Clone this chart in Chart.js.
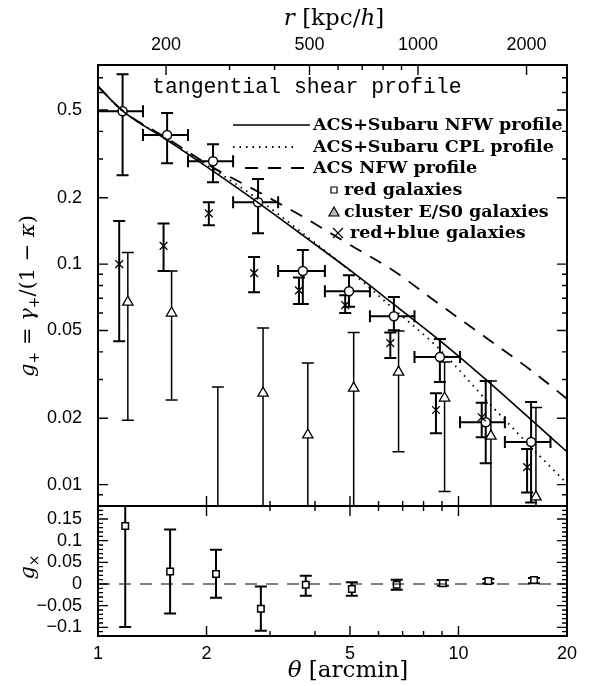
<!DOCTYPE html>
<html>
<head>
<meta charset="utf-8">
<title>tangential shear profile</title>
<script src="https://cdn.jsdelivr.net/npm/chart.js@4.4.1/dist/chart.umd.min.js"></script>
<style>
  html, body { margin: 0; padding: 0; background: #fff; }
  canvas { display: block; }
</style>
</head>
<body>
<canvas id="shear" width="590" height="686"></canvas>
<script>
// red galaxies: tangential shear g+ (circles) with bin edges
const thetaRed   = [1.17, 1.555, 2.085, 2.78, 3.70, 4.97, 6.62, 8.88, 11.9, 15.9];
const thetaRedLo = [1.0, 1.333, 1.777, 2.37, 3.16, 4.26, 5.68, 7.55, 10.1, 13.45];
const thetaRedHi = [1.333, 1.777, 2.37, 3.16, 4.26, 5.68, 7.55, 10.1, 13.45, 18.0];
const gRed   = [0.494, 0.385, 0.293, 0.191, 0.093, 0.0754, 0.058, 0.0379, 0.0192, 0.0156];
const gRedHi = [0.727, 0.484, 0.350, 0.243, 0.116, 0.089, 0.0709, 0.0457, 0.0295, 0.0237];
const gRedLo = [0.253, 0.287, 0.235, 0.138, 0.066, 0.064, 0.0502, 0.0292, 0.0125, 0.0083];

// red+blue galaxies (crosses)
const thetaAll = [1.145, 1.52, 2.03, 2.71, 3.61, 4.85, 6.47, 8.66, 11.6, 15.5];
const gAll   = [0.100, 0.121, 0.170, 0.091, 0.076, 0.0652, 0.0438, 0.0218, 0.0202, 0.012];
const gAllHi = [0.157, 0.153, 0.191, 0.1076, 0.087, 0.0723, 0.049, 0.026, 0.0235, 0.0145];
const gAllLo = [0.0447, 0.093, 0.150, 0.0746, 0.066, 0.060, 0.0375, 0.0171, 0.0164, 0.0092];

// cluster E/S0 galaxies (triangles); null = marker below the axis
const thetaE = [1.21, 1.60, 2.15, 2.87, 3.82, 5.12, 6.82, 9.15, 12.3, 16.4];
const gE   = [0.0673, 0.060, null, 0.026, 0.0168, 0.0274, 0.0324, 0.0247, 0.0166, 0.0088];
const gEHi = [0.113, 0.093, 0.0277, 0.0513, 0.0356, 0.049, 0.0497, 0.036, 0.0295, 0.0224];
const gELo = [0.0196, 0.0242, 0.001, 0.001, 0.001, 0.001, 0.0141, 0.0093, 0.001, 0.001];

// cross shear g_x of red galaxies (bottom panel)
const thetaGx = [1.19, 1.585, 2.125, 2.83, 3.77, 5.06, 6.74, 9.05, 12.1, 16.2];
const gx   = [0.134, 0.0286, 0.023, -0.057, -0.002, -0.0115, -0.002, 0.002, 0.007, 0.009];
const gxHi = [0.367, 0.126, 0.079, -0.006, 0.019, 0.004, 0.010, 0.009, 0.0115, 0.014];
const gxLo = [-0.099, -0.068, -0.032, -0.108, -0.027, -0.027, -0.013, -0.004, 0.002, 0.002];

// model profiles
const modelTheta = [1, 1.17, 1.555, 2.085, 2.78, 3.7, 4.97, 6.62, 8.88, 11.9, 15.9, 20];
const nfwJoint = [0.64, 0.495, 0.365, 0.264, 0.19, 0.135, 0.0946, 0.0657, 0.045, 0.030, 0.0197, 0.0141];
const cplJoint = [0.64, 0.495, 0.368, 0.27, 0.197, 0.138, 0.094, 0.0625, 0.041, 0.0243, 0.0148, 0.0101];
const nfwAcs   = [0.64, 0.497, 0.372, 0.274, 0.213, 0.164, 0.123, 0.093, 0.0655, 0.0465, 0.033, 0.0245];

const legendLabels = ['ACS+Subaru NFW profile', 'ACS+Subaru CPL profile', 'ACS NFW profile',
                      'red galaxies', 'cluster E/S0 galaxies', 'red+blue galaxies'];

// ticks
const thetaTicks = [1, 2, 5, 10, 20];
const thetaMinor = [3, 4, 6, 7, 8, 9];
const kpcPerArcmin = 129.5;
const rTicks = [200, 500, 1000, 2000];
const rMinor = [300, 400, 600, 700, 800, 900];
const gTicks = [0.01, 0.02, 0.05, 0.1, 0.2, 0.5];
const gMinor = [0.008, 0.009, 0.03, 0.04, 0.06, 0.07, 0.08, 0.09, 0.3, 0.4, 0.6, 0.7, 0.8];
const gxTicks = [-0.1, -0.05, 0, 0.05, 0.1, 0.15];
const gxTickText = ['\u22120.1', '\u22120.05', '0', '0.05', '0.1', '0.15'];

const pts = (xs, ys) => xs.map((x, i) => ({ x: x, y: ys[i] }));

const serif = '"DejaVu Serif", serif';
const tickFont = { family: '"Liberation Sans", Arial, sans-serif', size: 18 };
const noGrid = { display: false, drawTicks: false };

// error bars drawn under the markers
const errorSeries = [
  { x: thetaRed, y: gRed, lo: gRedLo, hi: gRedHi, xlo: thetaRedLo, xhi: thetaRedHi, axis: 'yTop', width: 2 },
  { x: thetaAll, lo: gAllLo, hi: gAllHi, axis: 'yTop', width: 2 },
  { x: thetaE, lo: gELo, hi: gEHi, axis: 'yTop', width: 1.5 },
  { x: thetaGx, lo: gxLo, hi: gxHi, axis: 'yBot', width: 2 }
];

const errorBars = {
  id: 'errorBars',
  beforeDatasetsDraw(chart) {
    const ctx = chart.ctx, sx = chart.scales.x;
    const cap = 6;
    errorSeries.forEach(s => {
      const ys = chart.scales[s.axis];
      ctx.save();
      ctx.beginPath();
      ctx.rect(sx.left, ys.top, sx.right - sx.left, ys.bottom - ys.top);
      ctx.clip();
      ctx.strokeStyle = '#000';
      ctx.lineWidth = s.width;
      ctx.beginPath();
      s.x.forEach((t, i) => {
        const px = sx.getPixelForValue(t);
        const a = ys.getPixelForValue(s.hi[i]), b = ys.getPixelForValue(s.lo[i]);
        ctx.moveTo(px, a); ctx.lineTo(px, b);
        ctx.moveTo(px - cap, a); ctx.lineTo(px + cap, a);
        ctx.moveTo(px - cap, b); ctx.lineTo(px + cap, b);
        if (s.xlo) {
          const py = ys.getPixelForValue(s.y[i]);
          const l = sx.getPixelForValue(s.xlo[i]), r = sx.getPixelForValue(s.xhi[i]);
          ctx.moveTo(l, py); ctx.lineTo(r, py);
          ctx.moveTo(l, py - cap); ctx.lineTo(l, py + cap);
          ctx.moveTo(r, py - cap); ctx.lineTo(r, py + cap);
        }
      });
      ctx.stroke();
      ctx.restore();
    });
  }
};

function drawParts(ctx, parts, cx, cy, rotate) {
  ctx.save();
  ctx.translate(cx, cy);
  if (rotate) ctx.rotate(-Math.PI / 2);
  let total = 0;
  parts.forEach(p => { ctx.font = p.f; p.w = ctx.measureText(p.t).width; total += p.w; });
  let x = -total / 2;
  ctx.fillStyle = '#000';
  ctx.textBaseline = 'alphabetic';
  ctx.textAlign = 'left';
  parts.forEach(p => { ctx.font = p.f; ctx.fillText(p.t, x, 7 + (p.dy || 0)); x += p.w; });
  ctx.restore();
}

// frame, inward ticks, titles and legend
const decorations = {
  id: 'decorations',
  afterDraw(chart) {
    const ctx = chart.ctx;
    const sx = chart.scales.x, sr = chart.scales.xTop, st = chart.scales.yTop, sb = chart.scales.yBot;
    const L = sx.left, R = sx.right;
    ctx.save();
    ctx.strokeStyle = '#000';
    ctx.lineWidth = 1.4;
    ctx.beginPath();
    const vt = (px, y0, len) => { ctx.moveTo(px, y0); ctx.lineTo(px, y0 + len); };
    const ht = (py, len) => { ctx.moveTo(L, py); ctx.lineTo(L + len, py); ctx.moveTo(R, py); ctx.lineTo(R - len, py); };
    thetaTicks.concat(thetaMinor).forEach(v => {
      const len = thetaTicks.includes(v) ? 10 : 5;
      const px = sx.getPixelForValue(v);
      vt(px, sb.bottom, -len); vt(px, sb.top, len); vt(px, st.bottom, -len);
    });
    rTicks.concat(rMinor).forEach(v => {
      const len = rTicks.includes(v) ? 10 : 5;
      vt(sr.getPixelForValue(v), st.top, len);
    });
    gTicks.concat(gMinor).forEach(v => ht(st.getPixelForValue(v), gTicks.includes(v) ? 10 : 5));
    for (let k = -12; k <= 18; k++) ht(sb.getPixelForValue(k / 100), k % 5 === 0 ? 10 : 5);
    ctx.stroke();
    ctx.lineWidth = 2;
    ctx.strokeRect(L, st.top, R - L, st.bottom - st.top);
    ctx.strokeRect(L, sb.top, R - L, sb.bottom - sb.top);
    ctx.restore();

    // axis titles
    const it = 'italic 21px ' + serif, rm = '21px ' + serif, sub = '14px ' + serif;
    const it2 = 'italic 23px ' + serif, rm2 = '23px ' + serif;
    drawParts(ctx, [{ t: 'g', f: it }, { t: '+', f: sub, dy: 5 }, { t: ' = ', f: rm },
      { t: 'γ', f: it }, { t: '+', f: sub, dy: 5 }, { t: '/(1 \u2212 ', f: rm },
      { t: 'κ', f: it }, { t: ')', f: rm }], 27, 296, true);
    drawParts(ctx, [{ t: 'g', f: it }, { t: '×', f: sub, dy: 5 }], 27, 567, true);
    drawParts(ctx, [{ t: 'θ', f: it2 }, { t: ' [arcmin]', f: rm2 }], 348, 670, false);
    drawParts(ctx, [{ t: 'r', f: it2 }, { t: ' [kpc/', f: rm2 }, { t: 'h', f: it2 }, { t: ']', f: rm2 }], 334, 18, false);

    // panel title
    ctx.save();
    ctx.fillStyle = '#000';
    ctx.font = '21.5px "Liberation Mono", monospace';
    ctx.textBaseline = 'alphabetic';
    ctx.fillText('tangential shear profile', 152, 93);

    // legend
    ctx.font = 'bold 17.5px ' + serif;
    ctx.textBaseline = 'middle';
    const rowY = [125, 147, 168, 190, 212, 233];
    const dashes = [[], [1.5, 5], [13, 10]];
    const lineSpan = [[233, 310], [233, 297], [245, 307]];
    ctx.strokeStyle = '#000';
    for (let i = 0; i < 3; i++) {
      ctx.beginPath();
      ctx.lineWidth = i === 0 ? 1.6 : 1.8;
      ctx.setLineDash(dashes[i]);
      ctx.moveTo(lineSpan[i][0], rowY[i]);
      ctx.lineTo(lineSpan[i][1], rowY[i]);
      ctx.stroke();
      ctx.fillText(legendLabels[i], 313, rowY[i]);
    }
    ctx.setLineDash([]);
    ctx.lineWidth = 1.2;
    ctx.fillStyle = '#fff';
    ctx.beginPath(); ctx.rect(331, rowY[3] - 3, 6, 6); ctx.fill(); ctx.stroke();
    ctx.beginPath(); ctx.moveTo(334, rowY[4] - 5); ctx.lineTo(339, rowY[4] + 4); ctx.lineTo(329, rowY[4] + 4);
    ctx.closePath(); ctx.fillStyle = '#bbb'; ctx.fill(); ctx.stroke();
    ctx.beginPath();
    ctx.moveTo(333, rowY[5] - 5); ctx.lineTo(343, rowY[5] + 5);
    ctx.moveTo(343, rowY[5] - 5); ctx.lineTo(333, rowY[5] + 5);
    ctx.stroke();
    ctx.fillStyle = '#000';
    ctx.fillText(legendLabels[3], 344, rowY[3]);
    ctx.fillText(legendLabels[4], 344, rowY[4]);
    ctx.fillText(legendLabels[5], 350, rowY[5]);
    ctx.restore();
  }
};

new Chart(document.getElementById('shear'), {
  type: 'scatter',
  data: {
    datasets: [
      { data: pts(modelTheta, nfwJoint), yAxisID: 'yTop', showLine: true, borderColor: '#000', borderWidth: 1.6,
        pointRadius: 0, cubicInterpolationMode: 'monotone' },
      { data: pts(modelTheta, cplJoint), yAxisID: 'yTop', showLine: true, borderColor: '#000', borderWidth: 1.8,
        borderDash: [1.5, 5], pointRadius: 0, cubicInterpolationMode: 'monotone' },
      { data: pts(modelTheta, nfwAcs), yAxisID: 'yTop', showLine: true, borderColor: '#000', borderWidth: 1.8,
        borderDash: [13, 10], pointRadius: 0, cubicInterpolationMode: 'monotone' },
      { data: pts(thetaAll, gAll), yAxisID: 'yTop', pointStyle: 'crossRot', pointRadius: 5.5,
        borderColor: '#000', borderWidth: 1.3 },
      { data: pts(thetaE, gE), yAxisID: 'yTop', pointStyle: 'triangle', pointRadius: 6,
        backgroundColor: '#fff', borderColor: '#000', borderWidth: 1.3 },
      { data: pts(thetaRed, gRed), yAxisID: 'yTop', pointStyle: 'circle', pointRadius: 4.5,
        backgroundColor: '#fff', borderColor: '#000', borderWidth: 1.5 },
      { data: [{ x: 1, y: 0 }, { x: 20, y: 0 }], yAxisID: 'yBot', showLine: true, borderColor: '#000',
        borderWidth: 1, borderDash: [12, 9], pointRadius: 0 },
      { data: pts(thetaGx, gx), yAxisID: 'yBot', pointStyle: 'rect', pointRadius: 4.6,
        backgroundColor: '#fff', borderColor: '#000', borderWidth: 1.5 }
    ]
  },
  options: {
    responsive: false,
    animation: false,
    devicePixelRatio: 1,
    events: [],
    layout: { padding: { left: 0, right: 23, top: 0, bottom: 0 } },
    plugins: { legend: { display: false }, tooltip: { enabled: false } },
    scales: {
      yBot: {
        type: 'linear', position: 'left', stack: 'panels', stackWeight: 130,
        min: -0.12, max: 0.18,
        grid: noGrid, border: { display: false },
        afterBuildTicks: s => { s.ticks = gxTicks.map(v => ({ value: v })); },
        afterFit: s => { s.width = 98; },
        ticks: { font: tickFont, color: '#000', padding: 16, autoSkip: false, callback: (v, i) => gxTickText[i] }
      },
      yTop: {
        type: 'logarithmic', position: 'left', stack: 'panels', stackWeight: 441,
        min: 0.008, max: 0.8,
        grid: noGrid, border: { display: false },
        afterBuildTicks: s => { s.ticks = gTicks.map(v => ({ value: v })); },
        afterFit: s => { s.width = 98; },
        ticks: { font: tickFont, color: '#000', padding: 16, autoSkip: false, callback: (v, i) => String(gTicks[i]) }
      },
      x: {
        type: 'logarithmic', position: 'bottom', min: 1, max: 20,
        grid: noGrid, border: { display: false },
        afterBuildTicks: s => { s.ticks = thetaTicks.map(v => ({ value: v })); },
        afterFit: s => { s.height = 50; },
        ticks: { font: tickFont, color: '#000', padding: 7, autoSkip: false, maxRotation: 0,
                 callback: (v, i) => String(thetaTicks[i]) }
      },
      xTop: {
        type: 'logarithmic', position: 'top', min: kpcPerArcmin * 1, max: kpcPerArcmin * 20,
        grid: noGrid, border: { display: false },
        afterBuildTicks: s => { s.ticks = rTicks.map(v => ({ value: v })); },
        afterFit: s => { s.height = 65; },
        ticks: { font: tickFont, color: '#000', padding: 9, autoSkip: false, maxRotation: 0,
                 callback: (v, i) => String(rTicks[i]) }
      }
    }
  },
  plugins: [errorBars, decorations]
});
</script>
</body>
</html>
